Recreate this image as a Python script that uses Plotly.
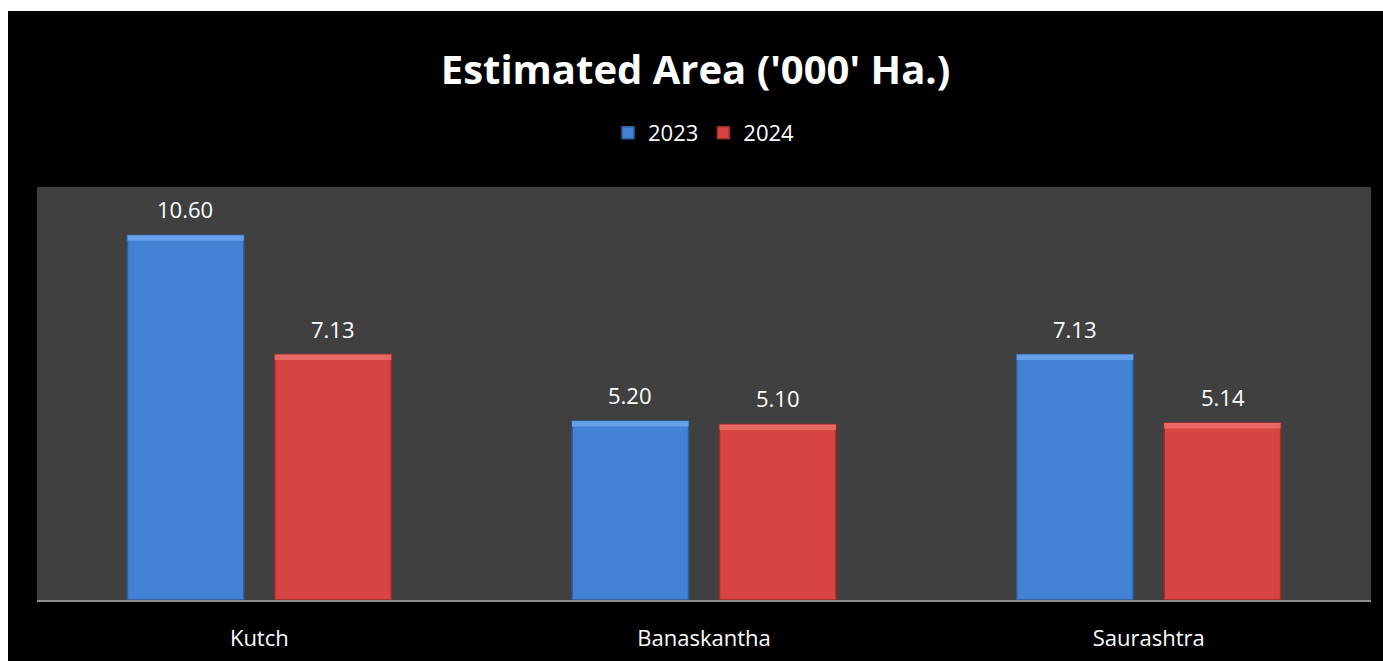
import plotly.graph_objects as go

categories = ["Kutch", "Banaskantha", "Saurashtra"]
values_2023 = [10.60, 5.20, 7.13]
values_2024 = [7.13, 5.10, 5.14]
series_names = ["2023", "2024"]

title_text = "Estimated Area ('000' Ha.)"

BLUE = "#4281D3"
BLUE_EDGE = "#2C5C9C"
BLUE_TOP = "#65A0E8"
RED = "#D64541"
RED_EDGE = "#9A2C2A"
RED_TOP = "#E96864"
FONT = "Open Sans"
STRIP = 0.16

fig = go.Figure()

for name, vals, col, edge, top, grp in [
    (series_names[0], values_2023, BLUE, BLUE_EDGE, BLUE_TOP, "a"),
    (series_names[1], values_2024, RED, RED_EDGE, RED_TOP, "b"),
]:
    fig.add_trace(go.Bar(
        x=categories, y=vals, name=name, offsetgroup=grp,
        marker=dict(color=col, line=dict(color=edge, width=1.5)),
        hoverinfo="skip",
    ))
    fig.add_trace(go.Bar(
        x=categories, y=[STRIP] * len(vals), base=[v - STRIP for v in vals],
        offsetgroup=grp, showlegend=False,
        marker=dict(color=top, line=dict(color=top, width=0)),
        hoverinfo="skip",
    ))

annotations = []
for vals, shift in [(values_2023, -74), (values_2024, 74)]:
    for c, v in zip(categories, vals):
        annotations.append(dict(
            x=c, y=v, xref="x", yref="y", text=f"{v:.2f}", showarrow=False,
            xshift=shift, yshift=26, yanchor="middle",
            font=dict(family=FONT, size=22, color="white"),
        ))

fig.update_layout(
    width=1375, height=650,
    margin=dict(l=29, r=12, t=176, b=61, pad=0),
    paper_bgcolor="black",
    plot_bgcolor="#404040",
    barmode="group",
    bargap=0.337,
    bargroupgap=0.21,
    title=dict(
        text=title_text, x=0.5, xref="container", xanchor="center",
        y=1 - 59 / 650, yref="container", yanchor="middle",
        font=dict(family=FONT, size=40, color="white", weight="bold"),
    ),
    legend=dict(
        orientation="h", x=0.5, xanchor="center", y=1.1308, yanchor="middle",
        font=dict(family=FONT, size=22, color="white"),
        bgcolor="rgba(0,0,0,0)", itemwidth=30,
        traceorder="normal",
    ),
    xaxis=dict(
        showgrid=False, zeroline=False, automargin=False,
        showline=True, linecolor="#8C8C8C", linewidth=2,
        ticks="outside", ticklen=18, tickcolor="rgba(0,0,0,0)",
        tickfont=dict(family=FONT, size=22, color="white"),
    ),
    yaxis=dict(
        range=[0, 12], visible=False, showgrid=False, zeroline=False,
        automargin=False,
    ),
    annotations=annotations,
    showlegend=True,
)

post = ("document.body.style.margin='11px 0 0 8px';"
        "document.body.style.overflow='hidden';"
        "document.body.style.background='white';")
fig.write_html("out.html", post_script=post, config={"displayModeBar": False})
